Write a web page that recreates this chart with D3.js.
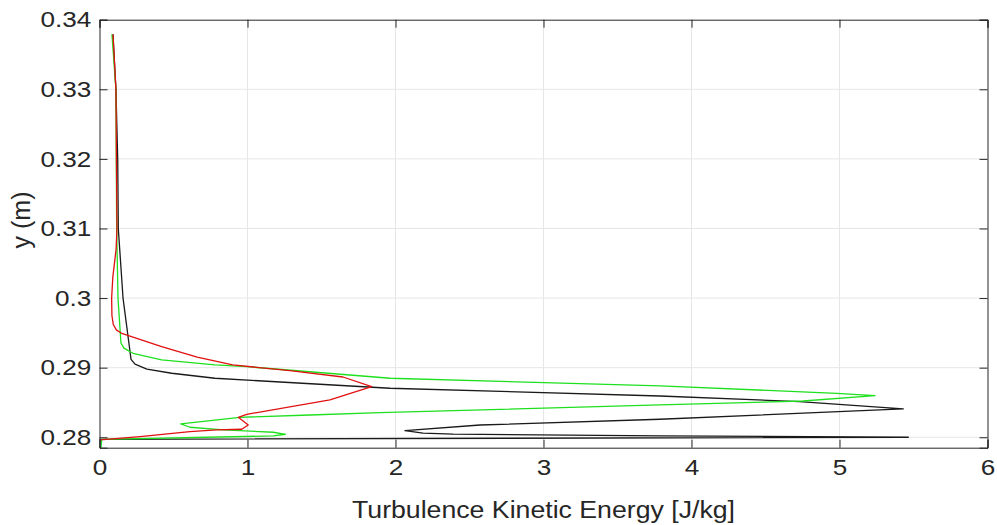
<!DOCTYPE html>
<html>
<head>
<meta charset="utf-8">
<script src="https://cdn.jsdelivr.net/npm/d3@7"></script>
<style>
    body { margin: 0; background: #fff; }
    text { font-family: "Liberation Sans", Arial, sans-serif; fill: #262626; }
</style>
</head>
<body>
<svg id="chart" width="997" height="525"></svg>
<script>
// x ticks / y ticks
const xTicks = [0, 1, 2, 3, 4, 5, 6];
const yTicks = [0.28, 0.29, 0.3, 0.31, 0.32, 0.33, 0.34];

// black profile
const blackTke = [0.091, 0.111, 0.123, 0.127, 0.159, 0.199, 0.213, 0.24, 0.32, 0.488, 0.78, 1.963, 3.787, 4.73, 5.431, 3.787, 2.571, 2.064, 2.186, 2.39, 3.787, 5.465, 0.0];
const blackY = [0.3379, 0.33, 0.32, 0.31, 0.3, 0.2935, 0.2912, 0.2905, 0.2898, 0.2892, 0.28848, 0.28704, 0.28593, 0.28512, 0.28407, 0.28259, 0.28176, 0.28095, 0.28058, 0.28044, 0.28020, 0.28, 0.27971];

// green profile
const greenTke = [0.084, 0.111, 0.116, 0.125, 0.145, 0.165, 0.226, 0.42, 0.78, 0.995, 1.963, 3.787, 4.981, 5.24, 4.753, 3.787, 1.895, 1.422, 0.949, 0.549, 0.611, 0.836, 1.174, 1.257, 1.174, 0.015, 0.01];
const greenY = [0.3379, 0.33, 0.31, 0.3, 0.29355, 0.2928, 0.29207, 0.29111, 0.29039, 0.29014, 0.28848, 0.28737, 0.28632, 0.28598, 0.28521, 0.28464, 0.28353, 0.2832, 0.28287, 0.28191, 0.28144, 0.28105, 0.28072, 0.28043, 0.28019, 0.27971, 0.2785];

// red profile
const redTke = [0.091, 0.111, 0.118, 0.112, 0.09, 0.082, 0.084, 0.093, 0.115, 0.15, 0.42, 0.66, 0.9, 1.287, 1.645, 1.839, 1.557, 0.995, 0.938, 1.005, 0.961, 0.792, 0.611, 0.274, 0.003];
const redY = [0.3379, 0.33, 0.31, 0.307, 0.303, 0.3, 0.2975, 0.2962, 0.2954, 0.29494, 0.29302, 0.2915, 0.2904, 0.28957, 0.28866, 0.28727, 0.28536, 0.2833, 0.28287, 0.28177, 0.28115, 0.28105, 0.28081, 0.28009, 0.27961];

const series = [
    { x: blackTke, y: blackY, color: "#1a1a1a" },
    { x: greenTke, y: greenY, color: "#1ee01e" },
    { x: redTke, y: redY, color: "#e01010" }
];

const plotLeft = 99.5, plotRight = 987.5, plotTop = 19.7, plotBottom = 447.7;

const svg = d3.select("#chart");
const x = d3.scaleLinear().domain([0, 6]).range([plotLeft, plotRight]);
const y = d3.scaleLinear().domain([0.2785, 0.34]).range([plotBottom, plotTop]);

// grid
svg.append("g")
    .selectAll("line")
    .data(xTicks.slice(1, -1))
    .join("line")
    .attr("x1", d => x(d)).attr("x2", d => x(d))
    .attr("y1", plotTop).attr("y2", plotBottom)
    .attr("stroke", "#e6e6e6");
svg.append("g")
    .selectAll("line")
    .data(yTicks.slice(0, -1))
    .join("line")
    .attr("x1", plotLeft).attr("x2", plotRight)
    .attr("y1", d => y(d)).attr("y2", d => y(d))
    .attr("stroke", "#e6e6e6");

// lines
const line = d3.line().x(d => x(d[0])).y(d => y(d[1]));
series.forEach(s => {
    svg.append("path")
        .datum(d3.zip(s.x, s.y))
        .attr("d", line)
        .attr("fill", "none")
        .attr("stroke", s.color)
        .attr("stroke-width", 1.3)
        .attr("stroke-linejoin", "round");
});

// axes (ticks inward, mirrored)
svg.append("g")
    .attr("transform", `translate(0,${plotBottom})`)
    .call(d3.axisBottom(x).tickValues(xTicks).tickSize(-8).tickPadding(11).tickFormat(d3.format("d")))
    .call(g => g.selectAll("text").attr("font-size", 22.5).attr("fill", "#262626")
        .attr("transform", "scale(1.16,1)"));
svg.append("g")
    .attr("transform", `translate(0,${plotTop})`)
    .call(d3.axisTop(x).tickValues(xTicks).tickSize(-8).tickFormat(""));
svg.append("g")
    .attr("transform", `translate(${plotLeft},0)`)
    .call(d3.axisLeft(y).tickValues(yTicks).tickSize(-8).tickPadding(7).tickFormat(d => String(+d.toFixed(2))))
    .call(g => g.selectAll("text").attr("font-size", 22.5).attr("fill", "#262626")
        .attr("transform", "scale(1.16,1)"));
svg.append("g")
    .attr("transform", `translate(${plotRight},0)`)
    .call(d3.axisRight(y).tickValues(yTicks).tickSize(-8).tickFormat(""));
svg.selectAll(".domain, .tick line").attr("stroke", "#262626");
svg.selectAll(".tick text").attr("font-family", "Liberation Sans, Arial, sans-serif");

// labels
svg.append("text")
    .attr("x", 543.5).attr("y", 518)
    .attr("text-anchor", "middle")
    .attr("font-size", 23)
    .attr("textLength", 383)
    .attr("lengthAdjust", "spacingAndGlyphs")
    .text("Turbulence Kinetic Energy [J/kg]");
svg.append("text")
    .attr("transform", "translate(30,220) rotate(-90)")
    .attr("text-anchor", "middle")
    .attr("font-size", 25)
    .text("y (m)");
</script>
</body>
</html>
